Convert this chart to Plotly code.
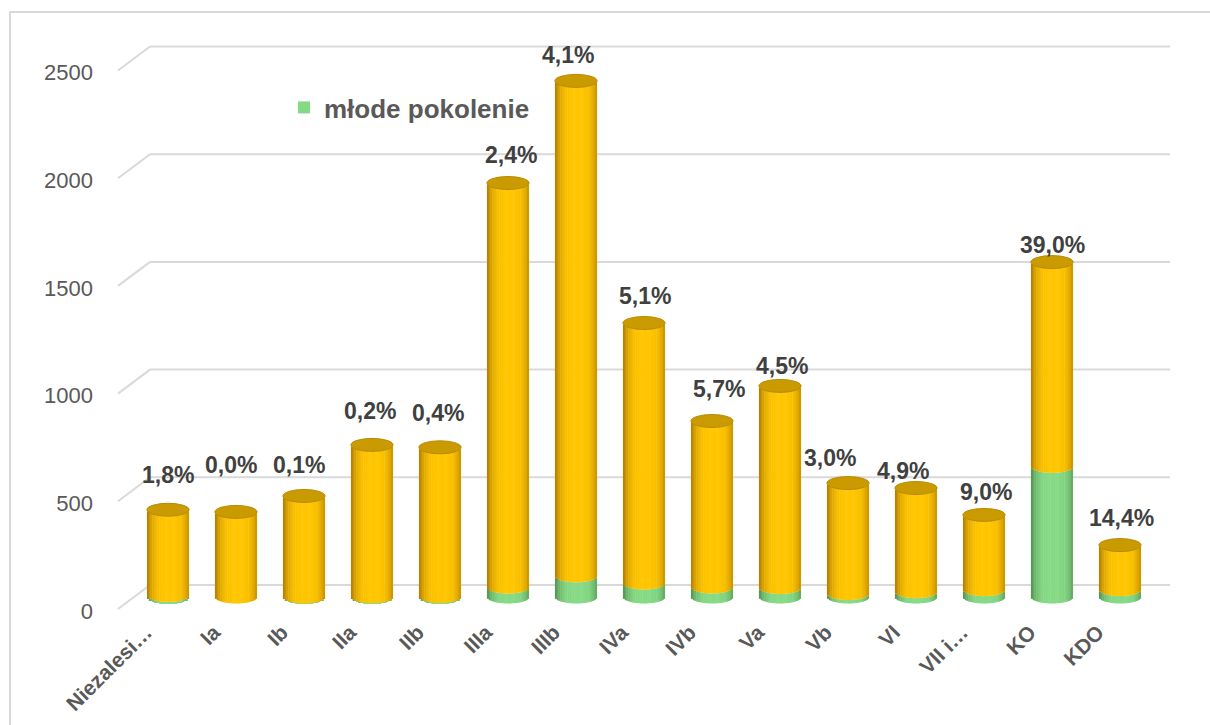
import numpy as np
import plotly.graph_objects as go

# ---- data -------------------------------------------------------------
categories = ["Niezalesi…", "Ia", "Ib", "IIa", "IIb", "IIIa", "IIIb", "IVa",
              "IVb", "Va", "Vb", "VI", "VII i…", "KO", "KDO"]
totals = [405, 395, 469, 706, 695, 1922, 2396, 1272, 817, 980, 529, 506, 381, 1555, 241]
young_share = [1.8, 0.0, 0.1, 0.2, 0.4, 2.4, 4.1, 5.1, 5.7, 4.5, 3.0, 4.9, 9.0, 39.0, 14.4]
y_ticks = [0, 500, 1000, 1500, 2000, 2500]

young = [t * p / 100.0 for t, p in zip(totals, young_share)]
rest = [t - y for t, y in zip(totals, young)]

# ---- geometry of the pseudo-3D frame (pixels) ---------------------------
W, H = 1210, 725
ZERO_PX = 597.0          # baseline at mid depth
PX_PER_UNIT = 0.2154     # vertical scale
DEPTH_DX, DEPTH_DY = 16, 12   # half-depth shift (front -> middle -> back)
TOP_PX, BOT_PX = 30.0, 625.0
CAT_AXIS_PX = 611.0      # line the category labels hang from
BAR_L, BAR_R = 134.0, 1154.0
WALL_L, WALL_R = BAR_L + DEPTH_DX, BAR_R + DEPTH_DX


def px2val(px, zero_px):
    return (zero_px - px) / PX_PER_UNIT


ydom = [(H - BOT_PX) / H, (H - TOP_PX) / H]
bar_range = [px2val(BOT_PX, ZERO_PX), px2val(TOP_PX, ZERO_PX)]
wall_zero = ZERO_PX - DEPTH_DY
wall_range = [px2val(BOT_PX, wall_zero), px2val(TOP_PX, wall_zero)]

BAR_W = 0.62                       # cylinder width in category units
E_UNITS = 6.5 / PX_PER_UNIT        # half height of the cylinder ellipse
N_STRIPS = 24

YELLOW_DARK, YELLOW_BRIGHT = (172, 122, 0), (255, 197, 0)
GREEN_DARK, GREEN_BRIGHT = (80, 142, 80), (134, 218, 134)


def shade(u, dark, bright):
    t = 1.0 - (abs(u - 0.05) / 1.05) ** 3.5
    t = min(1.0, max(0.0, t))
    c = [int(round(d + t * (b - d))) for d, b in zip(dark, bright)]
    return "rgb(%d,%d,%d)" % tuple(c)


fig = go.Figure()

# back wall gridlines (one horizontal line per value tick)
for v in y_ticks:
    fig.add_trace(go.Scatter(
        x=[0, 1], y=[v, v], mode="lines",
        line=dict(color="#D9D9D9", width=2),
        hoverinfo="skip", showlegend=False, xaxis="x", yaxis="y",
    ))

# cylinders built from thin vertical strips, each following the front arc
segments = [
    ("młode pokolenie", young, [0.0] * len(totals), GREEN_DARK, GREEN_BRIGHT, True),
    ("pozostali", rest, young, YELLOW_DARK, YELLOW_BRIGHT, False),
]
strip_w = BAR_W / N_STRIPS
for name, vals, bases, dark, bright, legend in segments:
    for k in range(N_STRIPS):
        u = -1.0 + (2 * k + 1) / N_STRIPS
        sag = E_UNITS * np.sqrt(max(0.0, 1.0 - u * u))
        width = strip_w * (1.25 if k < N_STRIPS - 1 else 1.0)
        fig.add_trace(go.Bar(
            x=categories, y=vals,
            base=[b - sag for b in bases],
            width=width, offset=-BAR_W / 2 + k * strip_w,
            marker=dict(color=shade(u, dark, bright), line=dict(width=0)),
            name=name, legendgroup=name,
            showlegend=(legend and k == N_STRIPS // 2),
            hoverinfo="skip",
            xaxis="x2", yaxis="y2",
        ))

# top caps of the cylinders
shapes = []
for i, t in enumerate(totals):
    shapes.append(dict(
        type="circle", xref="x2", yref="y2",
        x0=i - BAR_W / 2, x1=i + BAR_W / 2,
        y0=t - E_UNITS, y1=t + E_UNITS,
        fillcolor="#C99B00", line=dict(color="#B88A00", width=1),
        layer="above",
    ))

# diagonal gridline returns from the front edge to the back wall
for v in y_ticks:
    yb = wall_zero - v * PX_PER_UNIT
    shapes.append(dict(
        type="line", xref="paper", yref="paper",
        x0=(WALL_L - 2 * DEPTH_DX) / W, y0=1 - (yb + 2 * DEPTH_DY) / H,
        x1=WALL_L / W, y1=1 - yb / H,
        line=dict(color="#D9D9D9", width=2), layer="below",
    ))

# chart frame
shapes.append(dict(
    type="rect", xref="paper", yref="paper",
    x0=10 / W, x1=1.02, y0=-0.02, y1=1 - 12 / H,
    line=dict(color="#D9D9D9", width=2), fillcolor="rgba(0,0,0,0)", layer="below",
))

# percentage labels
label_dx = [0, -5, -5, -2, -2, 3, -8, 1, 7, 2, -18, -13, 2, 0, 1]
label_dy = [35, 47, 31, 34, 34, 28, 26, 27, 32, 20, 25, 17, 23, 17, 27]
annotations = []
for i, (t, p) in enumerate(zip(totals, young_share)):
    annotations.append(dict(
        x=i, y=t, xref="x2", yref="y2",
        text="<b>" + ("%.1f" % p).replace(".", ",") + "%</b>",
        showarrow=False, yanchor="middle", xanchor="center",
        xshift=label_dx[i], yshift=label_dy[i],
        font=dict(family="Liberation Sans", size=23, color="#404040"),
    ))

fig.update_layout(
    width=W, height=H,
    margin=dict(l=0, r=0, t=0, b=0, autoexpand=False),
    paper_bgcolor="white", plot_bgcolor="rgba(0,0,0,0)",
    barmode="overlay",
    shapes=shapes, annotations=annotations,
    showlegend=True,
    legend=dict(
        x=284 / W, y=1 - 84 / H, xanchor="left", yanchor="top",
        bgcolor="rgba(0,0,0,0)",
        font=dict(family="Liberation Sans", size=26, color="#595959", weight="bold"),
    ),
    # back wall with value labels
    xaxis=dict(domain=[WALL_L / W, WALL_R / W], range=[0, 1], anchor="y",
               visible=False, automargin=False),
    yaxis=dict(domain=ydom, range=wall_range, anchor="x", automargin=False,
               tickvals=y_ticks, showgrid=False,
               zeroline=False, showline=False, ticks="",
               ticklabelshift=2 * DEPTH_DY + 2, ticklabelstandoff=56,
               tickfont=dict(family="Liberation Sans", size=22, color="#595959")),
    # cylinders
    xaxis2=dict(domain=[BAR_L / W, BAR_R / W], anchor="free",
                position=(H - CAT_AXIS_PX) / H, type="category",
                range=[-0.5, len(categories) - 0.5], automargin=False,
                showgrid=False, zeroline=False, showline=False, ticks="",
                tickangle=-45, ticklabelstandoff=4, ticklabelshift=-22,
                tickfont=dict(family="Liberation Sans", size=21, color="#595959",
                              weight="bold")),
    yaxis2=dict(domain=ydom, range=bar_range, anchor="x2", visible=False,
                automargin=False),
)

fig.write_html("out.html")
